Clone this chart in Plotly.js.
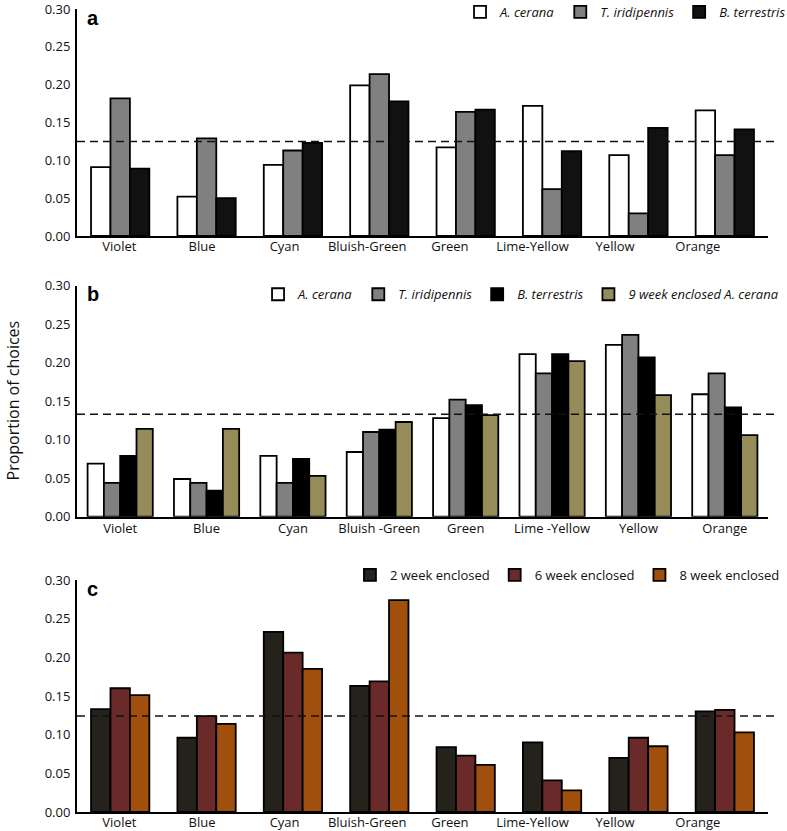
<!DOCTYPE html>
<html>
<head>
<meta charset="utf-8">
<script src="https://cdn.plot.ly/plotly-3.0.1.min.js"></script>
<style>
  html, body { margin: 0; padding: 0; background: #fff; }
  #chart { width: 787px; height: 831px; }
</style>
</head>
<body>
<div id="chart"></div>
<script>
// ---------- data ----------
const categoriesA = ['Violet', 'Blue', 'Cyan', 'Bluish-Green', 'Green', 'Lime-Yellow', 'Yellow', 'Orange'];
const categoriesB = ['Violet', 'Blue', 'Cyan', 'Bluish -Green', 'Green', 'Lime -Yellow', 'Yellow', 'Orange'];
const categoriesC = ['Violet', 'Blue', 'Cyan', 'Bluish-Green', 'Green', 'Lime-Yellow', 'Yellow', 'Orange'];

// panel a
const seriesNamesA = ['A. cerana', 'T. iridipennis', 'B. terrestris'];
const aCeranaA      = [0.091, 0.052, 0.094, 0.199, 0.117, 0.172, 0.107, 0.166];
const tIridipennisA = [0.182, 0.129, 0.113, 0.214, 0.164, 0.062, 0.030, 0.107];
const bTerrestrisA  = [0.089, 0.050, 0.123, 0.178, 0.167, 0.112, 0.143, 0.141];

// panel b
const seriesNamesB = ['A. cerana', 'T. iridipennis', 'B. terrestris', '9 week enclosed A. cerana'];
const aCeranaB      = [0.069, 0.049, 0.079, 0.084, 0.128, 0.211, 0.223, 0.159];
const tIridipennisB = [0.044, 0.044, 0.044, 0.110, 0.152, 0.186, 0.236, 0.186];
const bTerrestrisB  = [0.079, 0.034, 0.075, 0.113, 0.145, 0.211, 0.207, 0.142];
const enclosed9B    = [0.114, 0.114, 0.053, 0.123, 0.132, 0.202, 0.158, 0.106];

// panel c
const seriesNamesC = ['2 week enclosed', '6 week enclosed', '8 week enclosed'];
const week2C = [0.133, 0.096, 0.233, 0.163, 0.084, 0.090, 0.070, 0.130];
const week6C = [0.160, 0.124, 0.206, 0.169, 0.073, 0.041, 0.096, 0.132];
const week8C = [0.151, 0.114, 0.185, 0.274, 0.061, 0.028, 0.085, 0.103];

// chance level (dashed line) per panel
const chanceLevels = [0.125, 0.133, 0.124];
const panelLetters = ['a', 'b', 'c'];
const yTickVals = [0, 0.05, 0.10, 0.15, 0.20, 0.25, 0.30];
const yTitle = 'Proportion of choices';

// ---------- styles ----------
const FONT = 'Open Sans, Noto Sans, DejaVu Sans, sans-serif';
const colorsA = ['#ffffff', '#808080', '#111111'];
const colorsB = ['#ffffff', '#808080', '#000000', '#968c5a'];
const colorsC = ['#24221a', '#6a2a2a', '#a0500c'];

function groupTraces(cats, seriesList, names, colors, xa, ya, legendId, gap) {
  const n = seriesList.length;
  const groupW = 1 - gap;
  const w = groupW / n;
  return seriesList.map((vals, k) => ({
    type: 'bar',
    x: cats,
    y: vals,
    name: names[k],
    xaxis: xa,
    yaxis: ya,
    legend: legendId,
    width: w,
    offset: -groupW / 2 + k * w,
    marker: { color: colors[k], line: { color: '#000', width: 1.8 } },
    hoverinfo: 'x+y+name'
  }));
}
// invisible carrier so the (label-only) overlay axis gets drawn
function labelCarrier(cats, xa, ya) {
  return {
    type: 'scatter', mode: 'markers', x: cats.map((c, i) => i), y: cats.map(() => null),
    xaxis: xa, yaxis: ya, showlegend: false, hoverinfo: 'skip'
  };
}

const traces = [
  ...groupTraces(categoriesA, [aCeranaA, tIridipennisA, bTerrestrisA], seriesNamesA, colorsA, 'x', 'y', 'legend', 0.325),
  ...groupTraces(categoriesB, [aCeranaB, tIridipennisB, bTerrestrisB, enclosed9B], seriesNamesB, colorsB, 'x2', 'y2', 'legend2', 0.245),
  ...groupTraces(categoriesC, [week2C, week6C, week8C], seriesNamesC, colorsC, 'x3', 'y3', 'legend3', 0.325),
  labelCarrier(categoriesA, 'x4', 'y'),
  labelCarrier(categoriesC, 'x5', 'y3')
];

const TICKFONT = { family: FONT, size: 13, color: '#111' };

function mainX(anchor, showLabels) {
  return {
    anchor: anchor, domain: [0, 1], type: 'category', range: [-0.5, 7.5],
    showline: true, linecolor: '#000', linewidth: 2,
    ticks: '', showgrid: false, zeroline: false,
    showticklabels: showLabels, ticklabelstandoff: -1, ticklabeloverflow: 'allow',
    tickfont: TICKFONT, fixedrange: true
  };
}
function labelX(overlay, anchor, cats) {
  return {
    overlaying: overlay, anchor: anchor, side: 'bottom', type: 'linear',
    range: [-0.512, 7.85],
    tickmode: 'array', tickvals: cats.map((c, i) => i), ticktext: cats,
    showline: false, ticks: '', showgrid: false, zeroline: false,
    ticklabelstandoff: 1, ticklabeloverflow: 'allow',
    tickfont: TICKFONT, fixedrange: true
  };
}
function mainY(anchor, domain) {
  return {
    anchor: anchor, domain: domain, range: [0, 0.30],
    tickmode: 'array', tickvals: yTickVals, tickformat: '.2f',
    showline: true, linecolor: '#000', linewidth: 2,
    ticks: '', showgrid: false, zeroline: false, ticklabelstandoff: 2,
    ticklabeloverflow: 'allow',
    tickfont: TICKFONT, fixedrange: true
  };
}

const yRefs = ['y', 'y2', 'y3'];
const shapes = chanceLevels.map((v, i) => ({
  type: 'line', xref: (i === 0 ? 'x' : 'x' + (i + 1)) + ' domain', yref: yRefs[i],
  x0: 0, x1: 1.01, y0: v, y1: v,
  line: { color: '#111', width: 1.5, dash: '8px,5px' }
}));

const annotations = panelLetters.map((t, i) => ({
  text: t, xref: (i === 0 ? 'x' : 'x' + (i + 1)) + ' domain', yref: yRefs[i] + ' domain',
  x: 0.012, y: 0.962, xanchor: 'left', yanchor: 'middle', showarrow: false,
  font: { family: 'Liberation Sans, Arial, sans-serif', size: 20, weight: 'bold', color: '#000' }
}));
annotations.push({
  text: yTitle, xref: 'paper', yref: 'paper', x: -0.092, y: 0.5105,
  xanchor: 'center', yanchor: 'middle', textangle: -90, showarrow: false,
  font: { family: FONT, size: 16, color: '#111' }
});

function legendCfg(x, y, yanchor, italic) {
  return {
    orientation: 'h', x: x, y: y, xref: 'paper', yref: 'paper',
    xanchor: 'left', yanchor: yanchor, bgcolor: 'rgba(0,0,0,0)',
    font: { family: FONT, size: 13, color: '#111', style: italic ? 'italic' : 'normal' },
    traceorder: 'normal', itemclick: false, itemdoubleclick: false
  };
}

const layout = {
  width: 787, height: 831,
  margin: { l: 77, r: 19, t: 5, b: 19, autoexpand: false },
  paper_bgcolor: '#fff', plot_bgcolor: '#fff',
  barmode: 'overlay',
  showlegend: true,
  xaxis: mainX('y', false),
  xaxis2: mainX('y2', true),
  xaxis3: mainX('y3', false),
  xaxis4: labelX('x', 'y', categoriesA),
  xaxis5: labelX('x3', 'y3', categoriesC),
  yaxis: mainY('x', [0.7138, 0.995]),
  yaxis2: mainY('x2', [0.3659, 0.6522]),
  yaxis3: mainY('x3', [0, 0.2875]),
  legend: legendCfg(0.5543, 1.0099, 'top', true),
  legend2: legendCfg(0.262, 0.6415, 'middle', true),
  legend3: legendCfg(0.395, 0.2937, 'middle', false),
  shapes: shapes,
  annotations: annotations,
  font: { family: FONT, color: '#111' }
};

Plotly.newPlot('chart', traces, layout, { displayModeBar: false });
</script>
</body>
</html>
